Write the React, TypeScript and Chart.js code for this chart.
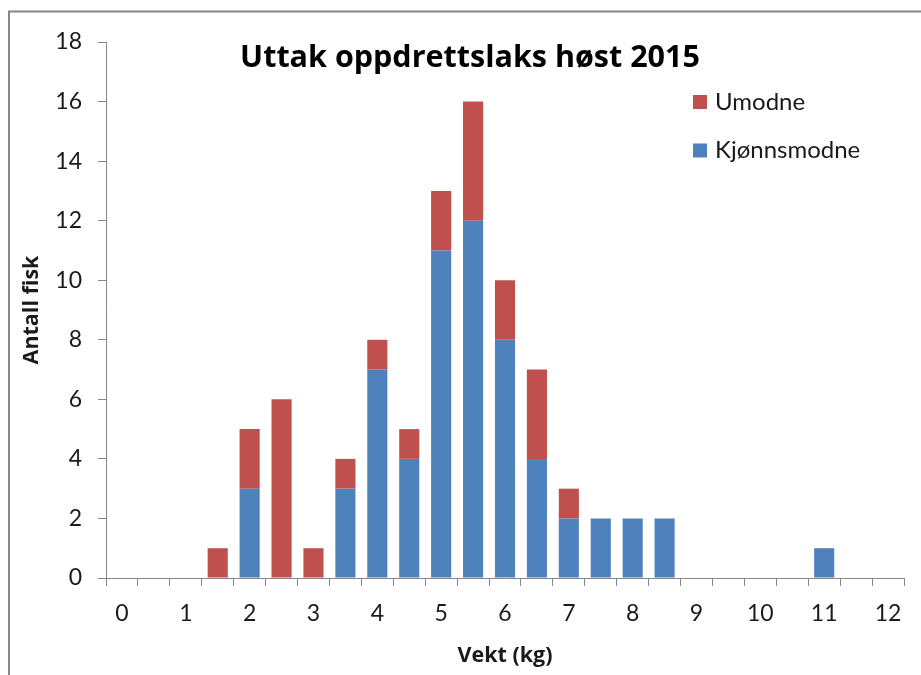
import React, { useEffect, useRef } from "react";
import { Chart, registerables } from "chart.js";

Chart.register(...registerables);

const categories = ["0", "0.5", "1", "1.5", "2", "2.5", "3", "3.5", "4", "4.5", "5", "5.5", "6", "6.5", "7", "7.5", "8", "8.5", "9", "9.5", "10", "10.5", "11", "11.5", "12"];
const xTickLabels = ["0", "", "1", "", "2", "", "3", "", "4", "", "5", "", "6", "", "7", "", "8", "", "9", "", "10", "", "11", "", "12"];
const kjonnsmodne = [0, 0, 0, 0, 3, 0, 0, 3, 7, 4, 11, 12, 8, 4, 2, 2, 2, 2, 0, 0, 0, 0, 1, 0, 0];
const umodne = [0, 0, 0, 1, 2, 6, 1, 1, 1, 1, 2, 4, 2, 3, 1, 0, 0, 0, 0, 0, 0, 0, 0, 0, 0];
const yTicks = [0, 2, 4, 6, 8, 10, 12, 14, 16, 18];

const TITLE = "Uttak oppdrettslaks høst 2015";
const FONT = "Lato, 'Open Sans', sans-serif";
const BOLDFONT = "'Open Sans', Lato, sans-serif";
const BLUE = "#4F81BD";
const RED = "#C0504D";
const AXIS = "#868686";
const TEXT = "#1a1a1a";

const overlayPlugin = {
  id: "overlay",
  afterDraw(chart: any) {
    const ctx = chart.ctx;
    ctx.save();
    // outer frame
    ctx.strokeStyle = AXIS;
    ctx.lineWidth = 2;
    ctx.beginPath();
    ctx.moveTo(9, 675);
    ctx.lineTo(9, 11.5);
    ctx.lineTo(921, 11.5);
    ctx.stroke();
    // title
    ctx.fillStyle = "#000";
    ctx.font = `bold 30.5px ${BOLDFONT}`;
    ctx.textAlign = "center";
    ctx.textBaseline = "alphabetic";
    ctx.fillText(TITLE, 470, 67);
    // legend
    const items = [
      { label: chart.data.datasets[1].label, color: chart.data.datasets[1].backgroundColor },
      { label: chart.data.datasets[0].label, color: chart.data.datasets[0].backgroundColor },
    ];
    ctx.font = `24px ${FONT}`;
    ctx.textAlign = "left";
    ctx.textBaseline = "middle";
    items.forEach((it, i) => {
      const cy = 102 + i * 48.5;
      ctx.fillStyle = it.color;
      ctx.fillRect(693, cy - 7, 14, 14);
      ctx.fillStyle = TEXT;
      ctx.fillText(it.label, 715, cy);
    });
    ctx.restore();
  },
};

export default function App() {
  const ref = useRef<HTMLCanvasElement | null>(null);
  useEffect(() => {
    if (!ref.current) return;
    const chart = new Chart(ref.current, {
      type: "bar",
      data: {
        labels: categories,
        datasets: [
          { label: "Kjønnsmodne", data: kjonnsmodne, backgroundColor: BLUE, borderWidth: 0, barPercentage: 0.63, categoryPercentage: 1 },
          { label: "Umodne", data: umodne, backgroundColor: RED, borderWidth: 0, barPercentage: 0.63, categoryPercentage: 1 },
        ],
      },
      options: {
        animation: false,
        responsive: true,
        maintainAspectRatio: false,
        layout: { padding: { left: 0, right: 17, top: 42, bottom: 0 } },
        plugins: { legend: { display: false }, title: { display: false }, tooltip: { enabled: false } },
        scales: {
          x: {
            stacked: true,
            offset: true,
            border: { color: AXIS, width: 1 },
            grid: { offset: true, drawOnChartArea: false, tickLength: 8, color: AXIS },
            ticks: {
              autoSkip: false,
              maxRotation: 0,
              padding: 14,
              color: TEXT,
              font: { family: FONT, size: 23 },
              callback: (_v: any, i: number) => xTickLabels[i],
            },
            title: { display: true, text: "Vekt (kg)", color: TEXT, font: { family: BOLDFONT, size: 21.5, weight: "bold" }, padding: { top: 0, bottom: 6 } },
            afterFit: (s: any) => { s.height = 97; },
          },
          y: {
            stacked: true,
            min: 0,
            max: 18,
            afterBuildTicks: (s: any) => { s.ticks = yTicks.map((v) => ({ value: v })); },
            border: { color: AXIS, width: 1 },
            grid: { drawOnChartArea: false, tickLength: 8, color: AXIS },
            ticks: { padding: 16, color: TEXT, font: { family: FONT, size: 23 } },
            title: { display: true, text: "Antall fisk", color: TEXT, font: { family: BOLDFONT, size: 21.5, weight: "bold" }, padding: { top: 19, bottom: 0 } },
            afterFit: (s: any) => { s.width = 106; },
          },
        },
      },
      plugins: [overlayPlugin],
    });
    return () => chart.destroy();
  }, []);
  return (
    <div style={{ position: "absolute", left: 0, top: 0, width: 921, height: 675, background: "#fff" }}>
      <canvas ref={ref} />
    </div>
  );
}
